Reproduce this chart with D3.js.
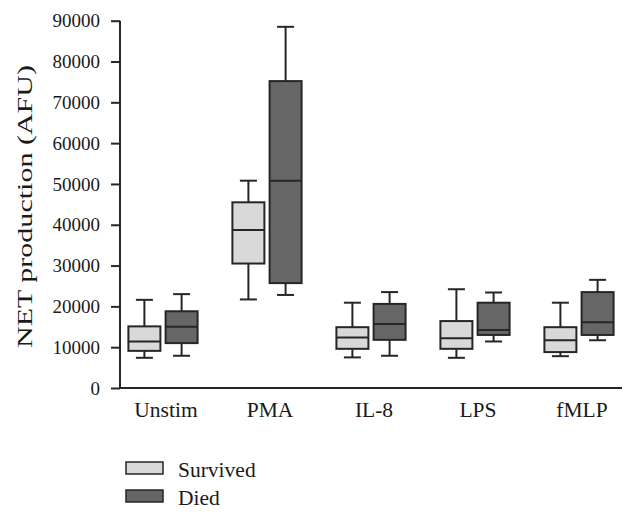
<!DOCTYPE html>
<html>
<head>
<meta charset="utf-8">
<script src="https://cdn.jsdelivr.net/npm/d3@7"></script>
<style>
  html, body { margin: 0; padding: 0; background: #fff; }
  svg { display: block; }
  svg text { font-family: "Liberation Serif", "DejaVu Serif", serif !important; fill: #1a1a1a; }
</style>
</head>
<body>
<svg id="chart" width="636" height="517"></svg>
<script>
const categories = ["Unstim", "PMA", "IL-8", "LPS", "fMLP"];
const series = ["Survived", "Died"];
const yTicks = [0, 10000, 20000, 30000, 40000, 50000, 60000, 70000, 80000, 90000];

const survivedMin    = [7400, 21700, 7500, 7400, 7800];
const survivedQ1     = [9100, 30500, 9600, 9600, 8800];
const survivedMedian = [11400, 38700, 12400, 12200, 11700];
const survivedQ3     = [15100, 45500, 14900, 16400, 14900];
const survivedMax    = [21600, 50800, 20900, 24200, 20900];

const diedMin    = [7900, 22800, 7900, 11400, 11700];
const diedQ1     = [11000, 25700, 11800, 13000, 13000];
const diedMedian = [15000, 50800, 15700, 14200, 16100];
const diedQ3     = [18800, 75200, 20600, 20900, 23500];
const diedMax    = [23000, 88500, 23500, 23400, 26500];

const fills = { "Survived": "#d9d9d9", "Died": "#666666" };
const strokeCol = "#262626";
const serif = '"Liberation Serif", "DejaVu Serif", serif';

const boxes = [];
categories.forEach((c, i) => {
  boxes.push({ cat: c, s: "Survived", min: survivedMin[i], q1: survivedQ1[i], med: survivedMedian[i], q3: survivedQ3[i], max: survivedMax[i] });
  boxes.push({ cat: c, s: "Died", min: diedMin[i], q1: diedQ1[i], med: diedMedian[i], q3: diedQ3[i], max: diedMax[i] });
});

const svg = d3.select("#chart");
const axisLeftX = 120, axisBottomY = 388, axisRightX = 622;

const y = d3.scaleLinear().domain([0, 90000]).range([axisBottomY, 20.7]);
const x = d3.scaleBand().domain(categories).range([111, 631]).padding(0);
const bw = x.bandwidth();
const xInner = d3.scalePoint().domain(series).range([bw / 2 - 18.6, bw / 2 + 18.6]);
const boxW = 32, capW = 17;

// Y axis
const yAxis = d3.axisLeft(y).tickValues(yTicks).tickSize(9).tickPadding(11).tickFormat(d3.format("d"));
const gy = svg.append("g").attr("transform", `translate(${axisLeftX},0)`).call(yAxis)
  .attr("font-family", null).attr("font-size", null);
gy.select(".domain").attr("stroke", strokeCol).attr("stroke-width", 2).attr("d", `M0,${y(90000)}V${axisBottomY}`);
gy.selectAll(".tick line").attr("stroke", strokeCol).attr("stroke-width", 2);
gy.selectAll(".tick text").style("font-size", "19px").style("font-family", serif).attr("fill", "#1a1a1a");

// X axis
const xAxis = d3.axisBottom(x).tickSize(0).tickPadding(14);
const gx = svg.append("g").attr("transform", `translate(0,${axisBottomY})`).call(xAxis)
  .attr("font-family", null).attr("font-size", null);
gx.select(".domain").attr("stroke", strokeCol).attr("stroke-width", 2).attr("d", `M${axisLeftX - 1},0H${axisRightX}`);
gx.selectAll(".tick text").style("font-size", "21.5px").style("font-family", serif).attr("fill", "#1a1a1a").attr("dx", 3);

// Y title
svg.append("text")
  .attr("transform", `translate(32,206.5) rotate(-90)`)
  .attr("text-anchor", "middle")
  .style("font-size", "20px")
  .style("font-family", serif)
  .attr("textLength", 283)
  .attr("lengthAdjust", "spacingAndGlyphs")
  .text("NET production (AFU)");

// Boxes
const g = svg.append("g");
const bg = g.selectAll("g.box").data(boxes).join("g")
  .attr("transform", d => `translate(${x(d.cat) + xInner(d.s)},0)`);

bg.append("line").attr("x1", 0).attr("x2", 0).attr("y1", d => y(d.max)).attr("y2", d => y(d.q3))
  .attr("stroke", strokeCol).attr("stroke-width", 2);
bg.append("line").attr("x1", 0).attr("x2", 0).attr("y1", d => y(d.q1)).attr("y2", d => y(d.min))
  .attr("stroke", strokeCol).attr("stroke-width", 2);
bg.append("line").attr("x1", -capW / 2).attr("x2", capW / 2).attr("y1", d => y(d.max)).attr("y2", d => y(d.max))
  .attr("stroke", strokeCol).attr("stroke-width", 2);
bg.append("line").attr("x1", -capW / 2).attr("x2", capW / 2).attr("y1", d => y(d.min)).attr("y2", d => y(d.min))
  .attr("stroke", strokeCol).attr("stroke-width", 2);
bg.append("rect").attr("x", -boxW / 2).attr("width", boxW)
  .attr("y", d => y(d.q3)).attr("height", d => y(d.q1) - y(d.q3))
  .attr("fill", d => fills[d.s]).attr("stroke", strokeCol).attr("stroke-width", 2);
bg.append("line").attr("x1", -boxW / 2).attr("x2", boxW / 2).attr("y1", d => y(d.med)).attr("y2", d => y(d.med))
  .attr("stroke", strokeCol).attr("stroke-width", 2);

// Legend
const lg = svg.append("g").selectAll("g").data(series).join("g")
  .attr("transform", (d, i) => `translate(126,${462 + i * 28})`);
lg.append("rect").attr("width", 37).attr("height", 12)
  .attr("fill", d => fills[d]).attr("stroke", strokeCol).attr("stroke-width", 1.5);
lg.append("text").attr("x", 52).attr("y", 14.5).style("font-size", "21.5px").style("font-family", serif).text(d => d);
</script>
</body>
</html>
